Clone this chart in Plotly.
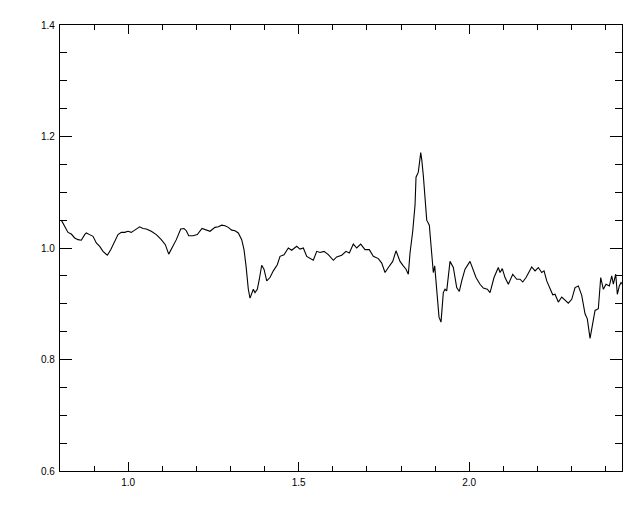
import plotly.graph_objects as go

wavelength = [
    0.8038, 0.8138, 0.8235, 0.8331, 0.8431, 0.8528, 0.8625, 0.8724, 0.8771, 0.8871,
    0.8968, 0.9065, 0.9164, 0.9261, 0.9387, 0.9487, 0.9604, 0.9701, 0.9798, 0.9897,
    0.9994, 1.0091, 1.0191, 1.0337, 1.0434, 1.0531, 1.0677, 1.0824, 1.0971, 1.1088,
    1.1188, 1.1284, 1.1411, 1.1540, 1.1636, 1.1704, 1.1774, 1.1900, 1.2026, 1.2164,
    1.2290, 1.2399, 1.2545, 1.2642, 1.2742, 1.2839, 1.2935, 1.3035, 1.3132, 1.3229,
    1.3328, 1.3396, 1.3455, 1.3522, 1.3572, 1.3622, 1.3669, 1.3718, 1.3786, 1.3845,
    1.3915, 1.3982, 1.4062, 1.4158, 1.4255, 1.4372, 1.4452, 1.4569, 1.4695, 1.4795,
    1.4941, 1.5038, 1.5135, 1.5235, 1.5331, 1.5428, 1.5528, 1.5625, 1.5742, 1.5868,
    1.6015, 1.6114, 1.6261, 1.6387, 1.6484, 1.6601, 1.6701, 1.6818, 1.6944, 1.7070,
    1.7188, 1.7334, 1.7434, 1.7531, 1.7628, 1.7757, 1.7853, 1.7971, 1.8067, 1.8147,
    1.8214, 1.8264, 1.8343, 1.8411, 1.8440, 1.8507, 1.8578, 1.8607, 1.8654, 1.8754,
    1.8830, 1.8900, 1.8947, 1.8988, 1.9047, 1.9114, 1.9173, 1.9240, 1.9290, 1.9340,
    1.9437, 1.9534, 1.9633, 1.9710, 1.9780, 1.9877, 2.0023, 2.0102, 2.0199, 2.0317,
    2.0413, 2.0531, 2.0610, 2.0727, 2.0853, 2.0903, 2.0970, 2.1050, 2.1147, 2.1276,
    2.1393, 2.1490, 2.1569, 2.1666, 2.1833, 2.1930, 2.2026, 2.2126, 2.2194, 2.2273,
    2.2370, 2.2449, 2.2516, 2.2613, 2.2713, 2.2809, 2.2906, 2.3006, 2.3103, 2.3200,
    2.3299, 2.3396, 2.3463, 2.3543, 2.3622, 2.3689, 2.3786, 2.3856, 2.3933, 2.4012,
    2.4109, 2.4179, 2.4226, 2.4296, 2.4343, 2.4402, 2.4452, 2.4490,
]

flux = [
    1.050, 1.038, 1.028, 1.025, 1.018, 1.015, 1.014, 1.024, 1.027, 1.024,
    1.021, 1.009, 1.003, 0.994, 0.987, 0.997, 1.012, 1.024, 1.028, 1.028,
    1.030, 1.028, 1.032, 1.038, 1.035, 1.034, 1.030, 1.024, 1.015, 1.006,
    0.989, 1.000, 1.015, 1.034, 1.035, 1.031, 1.022, 1.022, 1.024, 1.035,
    1.032, 1.030, 1.037, 1.038, 1.041, 1.040, 1.037, 1.032, 1.031, 1.027,
    1.015, 0.997, 0.968, 0.926, 0.910, 0.917, 0.926, 0.920, 0.926, 0.944,
    0.969, 0.962, 0.941, 0.947, 0.959, 0.970, 0.985, 0.988, 1.000, 0.996,
    1.003, 0.998, 1.000, 0.985, 0.982, 0.978, 0.994, 0.992, 0.994, 0.988,
    0.978, 0.984, 0.987, 0.994, 0.991, 1.007, 1.000, 1.007, 0.997, 0.997,
    0.985, 0.981, 0.973, 0.956, 0.965, 0.976, 0.995, 0.976, 0.968, 0.962,
    0.953, 0.991, 1.030, 1.077, 1.127, 1.136, 1.171, 1.159, 1.130, 1.050,
    1.041, 0.985, 0.956, 0.968, 0.923, 0.876, 0.867, 0.920, 0.926, 0.923,
    0.976, 0.965, 0.929, 0.922, 0.941, 0.962, 0.976, 0.962, 0.947, 0.935,
    0.928, 0.926, 0.920, 0.947, 0.965, 0.956, 0.963, 0.947, 0.935, 0.953,
    0.944, 0.944, 0.939, 0.947, 0.966, 0.959, 0.965, 0.956, 0.959, 0.941,
    0.926, 0.916, 0.917, 0.903, 0.912, 0.907, 0.901, 0.908, 0.929, 0.932,
    0.915, 0.882, 0.873, 0.838, 0.867, 0.888, 0.891, 0.947, 0.926, 0.935,
    0.932, 0.950, 0.935, 0.953, 0.917, 0.932, 0.938, 0.935,
]

x_range = [0.8, 2.448]
y_range = [0.6, 1.4]

fig = go.Figure()
fig.add_trace(go.Scatter(
    x=wavelength, y=flux, mode="lines",
    line=dict(color="black", width=1.1),
    showlegend=False, hoverinfo="skip",
))

axis_font = dict(family="Liberation Sans, Arial, sans-serif", size=10, color="black")

# page body has an 8px margin, so the figure is offset by 8px
fig.update_layout(
    width=632, height=504,
    margin=dict(l=52, r=18, t=11, b=41),
    paper_bgcolor="white", plot_bgcolor="white",
    showlegend=False,
    xaxis=dict(
        range=x_range, showgrid=False, zeroline=False,
        showline=True, linecolor="black", linewidth=1.3, mirror="ticks",
        ticks="inside", ticklen=9, tickwidth=1, tickcolor="black",
        dtick=0.5, tick0=0.0, tickformat=".1f", tickfont=axis_font,
        ticklabelstandoff=2,
        minor=dict(ticks="inside", ticklen=5, dtick=0.1, tick0=0.0,
                   tickcolor="black", tickwidth=1, showgrid=False),
    ),
    yaxis=dict(
        range=y_range, showgrid=False, zeroline=False,
        showline=True, linecolor="black", linewidth=1.3, mirror="ticks",
        ticks="inside", ticklen=12, tickwidth=1, tickcolor="black",
        dtick=0.2, tick0=0.0, tickformat=".1f", tickfont=axis_font,
        ticklabelstandoff=2,
        minor=dict(ticks="inside", ticklen=7, dtick=0.05, tick0=0.0,
                   tickcolor="black", tickwidth=1, showgrid=False),
    ),
)

fig.write_html("out.html")
